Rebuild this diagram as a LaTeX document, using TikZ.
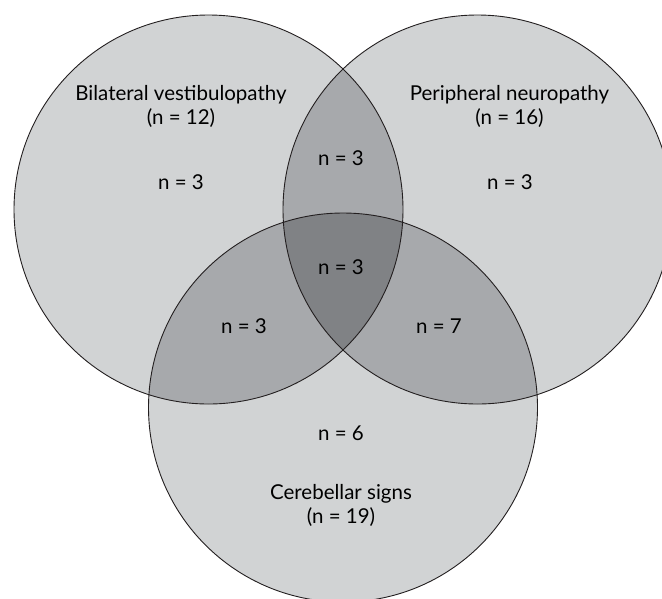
\documentclass[tikz,border=0pt]{standalone}
\usepackage{fontspec}
\setmainfont{Lato}

\definecolor{oneset}{HTML}{D1D3D4}
\definecolor{twosets}{HTML}{A7A9AC}
\definecolor{threesets}{HTML}{808285}
\definecolor{rim}{HTML}{231F20}

\tikzset{
  count/.style={font=\fontsize{20.5}{24}\selectfont, align=center},
  rimline/.style={draw=rim, line width=0.9pt}
}

\begin{document}
\begin{tikzpicture}[x=1pt, y=-1pt]
        \clip (0,0) rectangle (662,598);
        \def\vennr{194.5pt}
        \coordinate (bv) at (208.5,209.5);
        \coordinate (pn) at (477.5,209.5);
        \coordinate (cs) at (343,407.5);

        % single sets
        \fill[oneset] (bv) circle[radius=\vennr];
        \fill[oneset] (pn) circle[radius=\vennr];
        \fill[oneset] (cs) circle[radius=\vennr];

        % overlaps
        \begin{scope}
            \clip (bv) circle[radius=\vennr];
            \fill[twosets] (pn) circle[radius=\vennr];
            \fill[twosets] (cs) circle[radius=\vennr];
        \end{scope}
        \begin{scope}
            \clip (pn) circle[radius=\vennr];
            \fill[twosets] (cs) circle[radius=\vennr];
            \clip (bv) circle[radius=\vennr];
            \fill[threesets] (cs) circle[radius=\vennr];
        \end{scope}

        \draw[rimline] (bv) circle[radius=\vennr];
        \draw[rimline] (pn) circle[radius=\vennr];
        \draw[rimline] (cs) circle[radius=\vennr];

        \node[count] (bvname) at (181,106) {Bilateral vestibulopathy\\(n = 12)};
        \node[count] (pnname) at (509.5,106) {Peripheral neuropathy\\(n = 16)};
        \node[count] (csname) at (341,505.5) {Cerebellar signs\\(n = 19)};

        \node[count] (bvonly) at (181,182) {n = 3};
        \node[count] (pnonly) at (510,182) {n = 3};
        \node[count] (bvpn) at (341,158) {n = 3};
        \node[count] (all) at (341,267) {n = 3};
        \node[count] (bvcs) at (244,326) {n = 3};
        \node[count] (pncs) at (439,326) {n = 7};
        \node[count] (csonly) at (341,433) {n = 6};
\end{tikzpicture}
\end{document}
